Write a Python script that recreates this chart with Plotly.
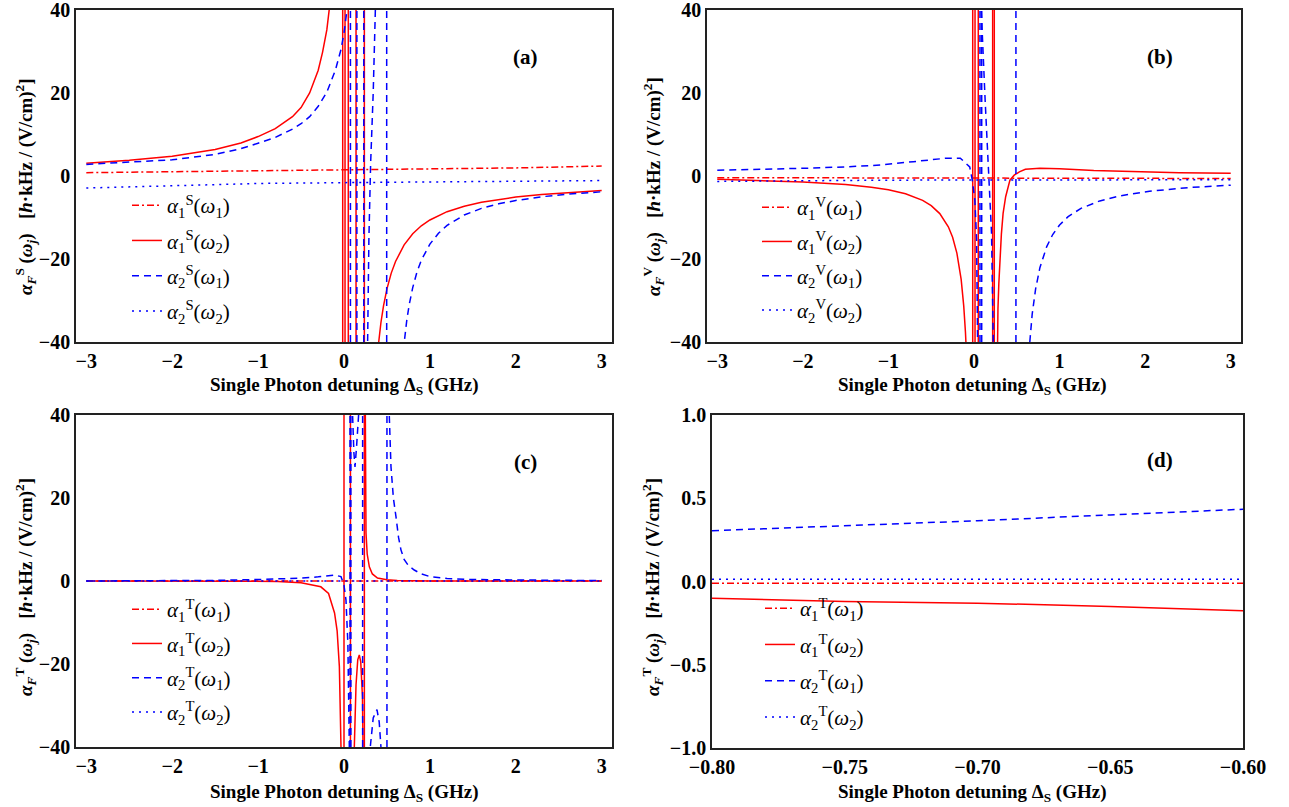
import plotly.graph_objects as go

W, H = 1289, 807
N = None

# ---------------- Panel (a): scalar ----------------
a_r1_x = [-3, -2, -1, 0, 1, 2, 3]
a_r1_y = [0.8, 1.0, 1.2, 1.4, 1.65, 1.95, 2.4]

a_r2_x = [-3, -2.5, -2, -1.5, -1.2, -1, -0.8, -0.6, -0.5, -0.4, -0.3, -0.25, -0.2, -0.15, -0.12, -0.1, N,
          -0.015, -0.015, N, 0.012, 0.012, N, 0.05, 0.05, N, 0.14, 0.14, N, 0.237, 0.237, N,
          0.39, 0.403, 0.43, 0.46, 0.5, 0.55, 0.6, 0.7, 0.8, 0.9, 1.0, 1.2, 1.4, 1.6, 1.8, 2.0, 2.3, 2.6, 3.0]
a_r2_y = [3.10, 3.78, 4.78, 6.40, 7.97, 9.50, 11.4, 14.3, 16.5, 20.0, 25.5, 29.8, 35.2, 42.5, 49.2, 54.1, N,
          60, -60, N, 60, -60, N, 60, -60, N, 60, -60, N, 60, -60, N,
          -42.6, -39.9, -35.3, -31.3, -27.2, -23.4, -20.6, -16.6, -13.9, -12.0, -10.6, -8.6, -7.3, -6.33, -5.62, -5.07, -4.44, -3.96, -3.49]

a_b1_x = [-3, -2.5, -2, -1.5, -1.2, -1, -0.8, -0.6, -0.5, -0.4, -0.3, -0.2, -0.1, -0.035, 0.0, 0.035, 0.06, N,
          0.075, 0.075, N, 0.15, 0.15, N, 0.23, 0.23, N,
          0.27, 0.275, 0.29, 0.31, 0.34, 0.38, 0.39, N, 0.497, 0.497, N,
          0.69, 0.70, 0.73, 0.76, 0.8, 0.85, 0.9, 1.0, 1.1, 1.2, 1.4, 1.6, 1.8, 2.0, 2.3, 2.6, 3.0]
a_b1_y = [2.8, 3.3, 3.9, 5.2, 6.6, 7.9, 9.3, 11.3, 12.6, 14.3, 16.8, 20.2, 25.5, 30.5, 34.5, 40, 46, N,
          60, -60, N, 60, -60, N, 60, -60, N,
          -60, -40, -15, 3, 20, 40, 60, N, 60, -60, N,
          -42.1, -40, -34.9, -30.9, -26.9, -23.1, -20.3, -16.4, -13.8, -11.9, -9.4, -7.8, -6.7, -5.9, -5.0, -4.4, -3.8]

a_b2_x = [-3, -2, -1, 0, 1, 2, 3]
a_b2_y = [-2.9, -2.3, -1.8, -1.6, -1.4, -1.2, -1.1]

# ---------------- Panel (b): vector ----------------
b_r1_x = [-3, 0, 3]
b_r1_y = [-0.4, -0.5, -0.6]

b_r2_x = [-3, -2.5, -2, -1.5, -1.2, -1, -0.8, -0.6, -0.5, -0.4, -0.3, -0.25, -0.2, -0.15, -0.12, -0.1, -0.09, N,
          -0.015, -0.015, N, 0.012, 0.012, N, 0.05, 0.05, N, 0.218, 0.218, N, 0.237, 0.237, N,
          0.265, 0.27, 0.28, 0.29, 0.30, 0.32, 0.34, 0.37, 0.42, 0.47, 0.53, 0.6, 0.77, 1.0, 1.4, 1.85, 2.4, 3.0]
b_r2_y = [-0.80, -1.05, -1.44, -2.07, -2.71, -3.34, -4.29, -5.88, -7.15, -9.06, -12.23, -14.77, -18.58, -24.9, -31.3, -37.6, -41.9, N,
          60, -60, N, 60, -60, N, 60, -60, N, 60, -60, N, 60, -60, N,
          -60, -40, -32, -26, -21.9, -14, -9, -5, -1, 0.2, 1.0, 1.6, 1.85, 1.75, 1.3, 1.0, 0.8, 0.65]

b_b1_x = [-3, -2.5, -2, -1.5, -1.09, -0.71, -0.5, -0.32, -0.16, -0.05, -0.02, 0.01, 0.03, 0.05, 0.052, N,
          0.07, 0.07, N, 0.09, 0.09, N,
          0.08, 0.085, 0.13, 0.165, 0.205, 0.225, 0.227, N, 0.49, 0.49, N,
          0.64, 0.65, 0.68, 0.72, 0.77, 0.85, 0.92, 1.0, 1.1, 1.25, 1.47, 1.7, 2.05, 2.5, 3.0]
b_b1_y = [1.4, 1.6, 1.85, 2.2, 2.65, 3.45, 3.9, 4.3, 4.3, 2.2, -1, -5.8, -15, -40, -60, N,
          60, -60, N, 60, -60, N,
          60, 40, 18.3, 2, -13.8, -39.5, -60, N, 60, -60, N,
          -42.9, -40, -33.3, -27.2, -22.1, -17.0, -14.1, -11.8, -9.8, -7.8, -6.0, -4.8, -3.68, -2.8, -2.2]

b_b2_x = [-3, -1, 3]
b_b2_y = [-1.3, -1.0, -0.9]

# ---------------- Panel (c): tensor ----------------
c_r1_x = [-3, 0, 3]
c_r1_y = [0, 0, 0]

c_r2_x = [-3, -1.5, -1, -0.77, -0.5, -0.27, -0.18, -0.11, -0.08, -0.054, -0.035, -0.03, N,
          0.0, 0.0, N, 0.075, 0.075, N,
          0.115, 0.12, 0.14, 0.16, 0.178, 0.195, 0.215, 0.23, 0.232, N, 0.237, 0.237, N,
          0.243, 0.245, 0.25, 0.256, 0.27, 0.295, 0.33, 0.39, 0.5, 0.62, 1.0, 3.0]
c_r2_y = [0, 0, -0.05, -0.1, -0.4, -1.4, -3, -7.7, -12, -20.6, -40, -60, N,
          60, -60, N, 60, -60, N,
          -60, -40, -25, -19, -17.8, -19.5, -28, -40, -60, N, 60, -60, N,
          60, 40, 20, 11.6, 6.5, 3.4, 1.7, 0.7, 0.3, 0.1, 0.03, 0]

c_b1_x = [-3, -2, -1.5, -1, -0.7, -0.5, -0.3, -0.11, -0.035, 0.0, 0.023, 0.045, 0.062, 0.066, N,
          0.07, 0.07, N, 0.08, 0.08, N,
          0.095, 0.1, 0.115, 0.128, 0.145, 0.17, 0.175, N, 0.217, 0.217, N,
          0.3, 0.306, 0.34, 0.384, 0.41, 0.43, 0.435, N, 0.5, 0.5, N,
          0.52, 0.527, 0.547, 0.575, 0.605, 0.635, 0.663, 0.7, 0.75, 0.818, 0.9, 1.01, 1.2, 1.4, 1.7, 1.98, 2.4, 3.0]
c_b1_y = [0, 0.05, 0.15, 0.35, 0.55, 0.7, 1.0, 1.45, 1.05, -1, -4.6, -15, -40, -60, N,
          60, -60, N, 60, -60, N,
          60, 40, 31, 27.5, 32, 40, 60, N, 60, -60, N,
          -60, -40, -33, -31, -34, -40, -60, N, 60, -60, N,
          60, 40, 27.5, 20, 15.5, 10.5, 7.5, 5.2, 3.7, 2.65, 1.7, 1.0, 0.6, 0.4, 0.3, 0.25, 0.15, 0.1]

c_b2_x = [-3, 0, 3]
c_b2_y = [0, 0, 0]

# ---------------- Panel (d): tensor zoom ----------------
d_x = [-0.80, -0.75, -0.70, -0.65, -0.60]
d_r1_y = [-0.01, -0.01, -0.01, -0.01, -0.01]
d_r2_y = [-0.10, -0.12, -0.13, -0.15, -0.175]
d_b1_y = [0.305, 0.333, 0.365, 0.40, 0.434]
d_b2_y = [0.013, 0.013, 0.013, 0.013, 0.013]

RED = "#ff0000"
BLUE = "#0000ff"
STY = {
    "r1": dict(color=RED, width=1.5, dash="7px,3px,2px,3px"),
    "r2": dict(color=RED, width=1.5),
    "b1": dict(color=BLUE, width=1.5, dash="7px,5px"),
    "b2": dict(color=BLUE, width=1.5, dash="2px,5px"),
}

def nm(i, sup, j):
    return f"<i>α</i><sub>{i}</sub><sup>{sup}</sup>(<i>ω</i><sub>{j}</sub>)"

NAMES = {"r1": (1, 1), "r2": (1, 2), "b1": (2, 1), "b2": (2, 2)}

panels = [
    ("x", "y", "legend", "S", {"r1": (a_r1_x, a_r1_y), "r2": (a_r2_x, a_r2_y),
                               "b1": (a_b1_x, a_b1_y), "b2": (a_b2_x, a_b2_y)}),
    ("x2", "y2", "legend2", "V", {"r1": (b_r1_x, b_r1_y), "r2": (b_r2_x, b_r2_y),
                                  "b1": (b_b1_x, b_b1_y), "b2": (b_b2_x, b_b2_y)}),
    ("x3", "y3", "legend3", "T", {"r1": (c_r1_x, c_r1_y), "r2": (c_r2_x, c_r2_y),
                                  "b1": (c_b1_x, c_b1_y), "b2": (c_b2_x, c_b2_y)}),
    ("x4", "y4", "legend4", "T", {"r1": (d_x, d_r1_y), "r2": (d_x, d_r2_y),
                                  "b1": (d_x, d_b1_y), "b2": (d_x, d_b2_y)}),
]

fig = go.Figure()
for xa, ya, lg, sup, series in panels:
    for key in ["r1", "r2", "b1", "b2"]:
        xs, ys = series[key]
        i, j = NAMES[key]
        fig.add_trace(go.Scatter(
            x=xs, y=ys, mode="lines", line=STY[key], name=nm(i, sup, j),
            xaxis=xa, yaxis=ya, legend=lg, legendgroup=lg + key,
            connectgaps=False, hoverinfo="skip"))

def px(p):
    return p / W

def py(p):
    return 1 - p / H

TICKFONT = dict(family="Liberation Serif", size=20, color="black", weight="bold")
axis_common = dict(showline=True, mirror=True, linecolor="#222", linewidth=1.6,
                   ticks="", showgrid=False, zeroline=False, tickfont=TICKFONT,
                   automargin=False, ticklabeloverflow="allow", fixedrange=True)

top_y = [py(342), py(10)]
bot_y = [py(747), py(415)]
bot_yd = [py(748), py(415)]
lx = [px(76), px(612)]
rx_b = [px(707), px(1241)]
rx_d = [px(712), px(1243)]

xr = [-3.12, 3.12]
xt = [-3, -2, -1, 0, 1, 2, 3]
yt = [-40, -20, 0, 20, 40]

fig.update_layout(
    width=W, height=H, margin=dict(l=0, r=0, t=0, b=0, autoexpand=False),
    paper_bgcolor="white", plot_bgcolor="white", showlegend=True,
    xaxis=dict(domain=lx, anchor="y", range=xr, tickvals=xt, **axis_common),
    yaxis=dict(domain=top_y, anchor="x", range=[-40, 40], tickvals=yt, **axis_common),
    xaxis2=dict(domain=rx_b, anchor="y2", range=xr, tickvals=xt, **axis_common),
    yaxis2=dict(domain=top_y, anchor="x2", range=[-40, 40], tickvals=yt, **axis_common),
    xaxis3=dict(domain=lx, anchor="y3", range=xr, tickvals=xt, **axis_common),
    yaxis3=dict(domain=bot_y, anchor="x3", range=[-40, 40], tickvals=yt, **axis_common),
    xaxis4=dict(domain=rx_d, anchor="y4", range=[-0.8, -0.6],
                tickvals=[-0.8, -0.75, -0.7, -0.65, -0.6], tickformat=".2f", **axis_common),
    yaxis4=dict(domain=bot_yd, anchor="x4", range=[-1, 1],
                tickvals=[-1, -0.5, 0, 0.5, 1], tickformat=".1f", **axis_common),
)

LEGFONT = dict(family="Liberation Serif", size=21, color="black")
def leg(xp, yp, gap):
    return dict(x=px(xp), y=py(yp), xanchor="left", yanchor="top",
                bgcolor="rgba(0,0,0,0)", font=LEGFONT, itemwidth=30,
                traceorder="grouped", tracegroupgap=gap, itemclick=False)

fig.update_layout(
    legend=leg(127, 185, 5),
    legend2=leg(757, 187, 4),
    legend3=leg(127, 589, 4),
    legend4=leg(760, 588, 6),
)

ANN = dict(family="Liberation Serif", size=19, color="black")
ann = []
def add(text, x, y, angle=0, size=19):
    ann.append(dict(text=text, x=px(x), y=py(y), xref="paper", yref="paper",
                    showarrow=False, textangle=angle, xanchor="center", yanchor="middle",
                    font=dict(ANN, size=size)))

xtitle = "<b>Single Photon detuning Δ<sub>S</sub> (GHz)</b>"
add(xtitle, 344, 386)
add(xtitle, 972, 386)
add(xtitle, 344, 793)
add(xtitle, 972, 793)

def ytitle(sup):
    return (f"<b><i>α<sub>F</sub></i><sup>{sup}</sup> (<i>ω<sub>j</sub></i>)"
            f"   [<i>h</i>·kHz / (V/cm)<sup>2</sup>]</b>")
add(ytitle("S"), 25, 187, -90)
add(ytitle("V"), 653, 187, -90)
add(ytitle("T"), 25, 587, -90)
add(ytitle("T"), 652, 587, -90)

add("<b>(a)</b>", 525, 57, size=21)
add("<b>(b)</b>", 1160, 57, size=21)
add("<b>(c)</b>", 525, 462, size=21)
add("<b>(d)</b>", 1160, 460, size=21)

fig.update_layout(annotations=ann, hovermode=False)
fig.write_html("out.html", config={"displayModeBar": False, "staticPlot": False},
               post_script="document.body.style.margin='0';document.body.style.overflow='hidden';")
